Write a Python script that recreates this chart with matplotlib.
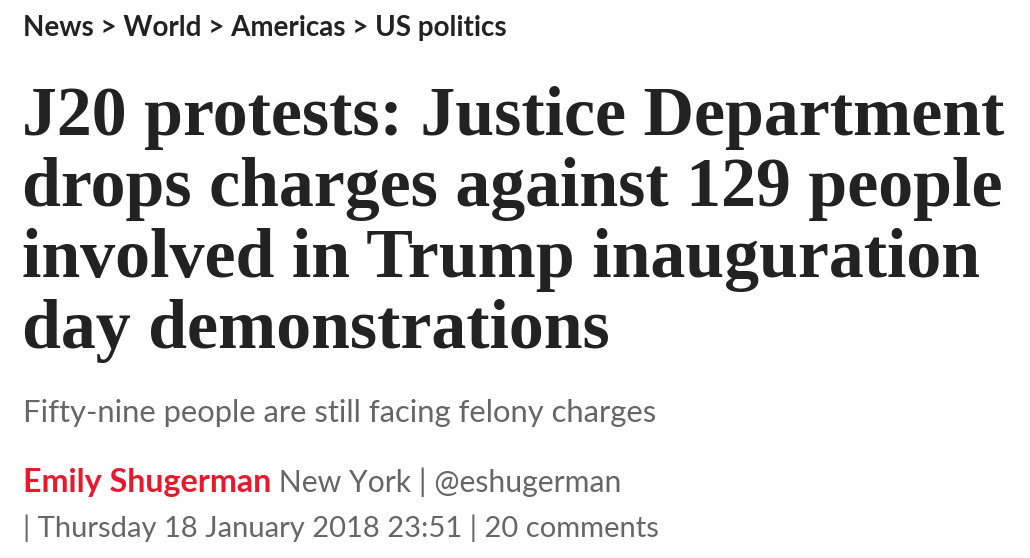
import matplotlib
matplotlib.use("Agg")
import matplotlib.pyplot as plt

W, H = 1030, 558

breadcrumb = ["News", "World", "Americas", "US politics"]
headline_lines = [
    "J20 protests: Justice Department",
    "drops charges against 129 people",
    "involved in Trump inauguration",
    "day demonstrations",
]
standfirst = "Fifty-nine people are still facing felony charges"
author = "Emily Shugerman"
author_rest = " New York | @eshugerman"
dateline = "| Thursday 18 January 2018 23:51 | 20 comments"

DARK = "#222222"
GREY = "#666666"
RED = "#e8192c"
SANS = ["Lato", "DejaVu Sans"]
SERIF = ["Liberation Serif", "DejaVu Serif"]

fig = plt.figure(figsize=(W / 100, H / 100), dpi=100)
fig.patch.set_facecolor("white")
renderer = fig.canvas.get_renderer()


def px(x, y):
    return x / W, 1 - y / H


def fit(t, target_w):
    for _ in range(2):
        bb = t.get_window_extent(renderer)
        t.set_fontsize(t.get_fontsize() * target_w / bb.width)


def put(x, y, s, size, color, family, weight="normal", target_w=None):
    t = fig.text(*px(x, y), s, fontsize=size, color=color, family=family,
                 weight=weight, va="baseline", ha="left")
    if target_w is not None:
        fit(t, target_w)
    return t


# breadcrumb
put(23, 36, " > ".join(breadcrumb), 17, DARK, SANS, "bold", 484)

# headline
hl_baselines = [135, 206, 277, 348]
t0 = fig.text(*px(22, hl_baselines[1]), headline_lines[1], fontsize=50, color=DARK,
              family=SERIF, weight="bold", va="baseline")
fit(t0, 981)
hs = t0.get_fontsize()
t0.remove()
for line, yb in zip(headline_lines, hl_baselines):
    fig.text(*px(22, yb), line, fontsize=hs, color=DARK,
             family=SERIF, weight="bold", va="baseline")

# standfirst
put(23, 422, standfirst, 20, GREY, SANS, "normal", 634)

# author line
ta = put(23, 492, author, 20, RED, SANS, "bold", 249)
bb = ta.get_window_extent(renderer)
put(bb.x1, 492, author_rest, 20, GREY, SANS, "normal", 621 - bb.x1)

# dateline
put(23, 537, dateline, 20, GREY, SANS, "normal", 634)

fig.savefig("out.png", dpi=100, facecolor="white")
